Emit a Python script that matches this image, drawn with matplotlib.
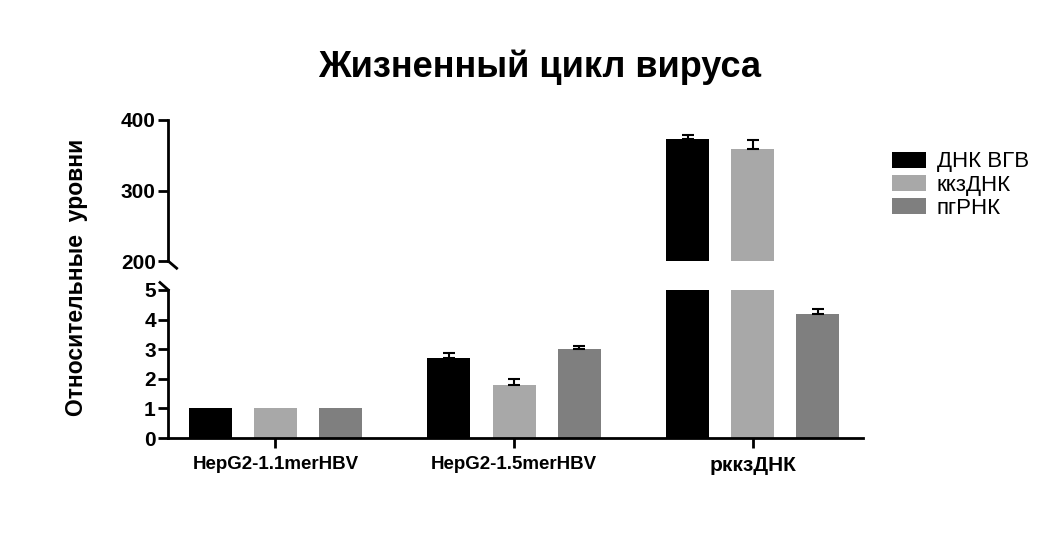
import numpy as np
import matplotlib
matplotlib.use('Agg')
import matplotlib.pyplot as plt

plt.rcParams['font.family'] = ['Liberation Sans', 'DejaVu Sans']

groups = ['HepG2-1.1merHBV', 'HepG2-1.5merHBV', 'рккзДНК']
series = ['ДНК ВГВ', 'ккзДНК', 'пгРНК']
colors = ['#000000', '#a8a8a8', '#7f7f7f']

hbv_dna = [1.0, 2.7, 373]
ccc_dna = [1.0, 1.8, 359]
pg_rna = [1.0, 3.0, 4.2]

hbv_err = [0.0, 0.17, 5]
ccc_err = [0.0, 0.2, 12]
pg_err = [0.0, 0.1, 0.17]

values = [hbv_dna, ccc_dna, pg_rna]
errors = [hbv_err, ccc_err, pg_err]

fig = plt.figure(figsize=(10.52, 5.33), dpi=100)
ax_top = fig.add_axes([0.160, 0.510, 0.66, 0.265])
ax_bot = fig.add_axes([0.160, 0.178, 0.66, 0.278])

x = np.arange(len(groups))
width = 0.18
step = 0.273

for ax in (ax_top, ax_bot):
    for i, (vals, errs) in enumerate(zip(values, errors)):
        pos = x + (i - 1) * step
        ax.bar(pos, vals, width, color=colors[i], label=series[i], zorder=2)
        # only upper error bars, skip the groups without spread
        has_err = np.array(errs) > 0
        ax.errorbar(pos[has_err], np.array(vals)[has_err],
                    yerr=[np.zeros(has_err.sum()), np.array(errs)[has_err]],
                    fmt='none', ecolor='black', elinewidth=1.5,
                    capsize=4.5, capthick=1.5, zorder=3)
    ax.set_xlim(-0.449, 2.461)
    for s in ['top', 'right']:
        ax.spines[s].set_visible(False)
    ax.spines['left'].set_linewidth(2)
    ax.spines['bottom'].set_linewidth(2)
    ax.tick_params(axis='y', width=2, length=7, labelsize=15, pad=2)

ax_top.set_ylim(200, 400)
ax_top.set_yticks([200, 300, 400])
ax_top.spines['bottom'].set_visible(False)
ax_top.tick_params(axis='x', bottom=False, labelbottom=False)
for lab in ax_top.get_yticklabels():
    lab.set_fontweight('bold')

ax_bot.set_ylim(0, 5)
ax_bot.set_yticks([0, 1, 2, 3, 4, 5])
ax_bot.set_xticks(x)
ax_bot.set_xticklabels(groups, fontweight='bold')
ax_bot.tick_params(axis='x', width=2, length=7, pad=6)
for lab, size in zip(ax_bot.get_xticklabels(), [13.5, 13.5, 15]):
    lab.set_fontsize(size)
for lab in ax_bot.get_yticklabels():
    lab.set_fontweight('bold')

# break marks on the y axis
kw = dict(color='black', lw=2, clip_on=False)
ax_top.plot([0.0, 0.012], [0.0, -0.05], transform=ax_top.transAxes, **kw)
ax_bot.plot([-0.012, 0.0], [1.05, 1.0], transform=ax_bot.transAxes, **kw)

fig.text(0.073, 0.48, 'Относительные  уровни', rotation=90, fontsize=16.5,
         fontweight='bold', ha='center', va='center')
fig.text(0.513, 0.873, 'Жизненный цикл вируса', fontsize=26,
         fontweight='bold', ha='center', va='center')

ax_top.legend(loc='upper left', bbox_to_anchor=(1.03, 0.84), frameon=False,
              fontsize=16, handlelength=1.5, handleheight=0.75,
              labelspacing=0.1, handletextpad=0.5, borderaxespad=0)

fig.savefig('out.png', dpi=100)
